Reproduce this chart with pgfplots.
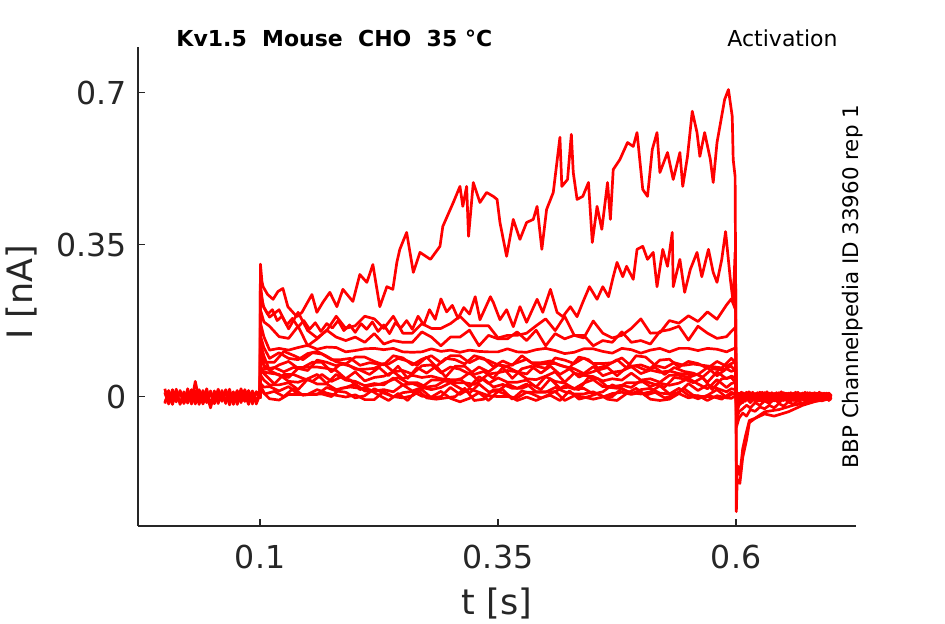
\documentclass[border=0pt]{standalone}
\usepackage{pgfplots}
\pgfplotsset{compat=1.18}
\usepackage{pgfplotstable}
\usepackage{fontspec}
\setmainfont{DejaVu Sans}
\definecolor{axgray}{HTML}{262626}
\pgfplotsset{trace/.style={color=red, line width=1.35pt, line join=round, mark=none}}

% baseline before the step
\pgfplotstableread{
t p q r s u
0.000 0.008 -0.013 0.018 -0.016 0.010
0.004 -0.010 0.007 -0.016 0.014 -0.017
0.008 0.013 -0.018 0.004 -0.010 0.016
0.012 -0.007 0.010 -0.012 0.017 -0.007
0.016 0.010 -0.015 0.014 -0.018 0.011
0.020 -0.016 0.005 -0.007 0.011 -0.014
0.024 0.005 -0.010 0.011 -0.015 0.018
0.028 -0.011 0.016 -0.017 0.008 -0.010
0.032 0.035 -0.007 0.007 -0.017 0.013
0.036 -0.008 0.011 -0.013 0.016 -0.018
0.040 0.011 -0.017 0.008 -0.007 0.014
0.044 -0.014 0.004 -0.010 0.018 -0.011
0.048 0.007 -0.026 0.013 -0.020 0.010
0.052 -0.010 0.008 -0.016 0.013 -0.016
0.056 0.014 -0.013 0.005 -0.016 0.017
0.060 -0.005 0.007 -0.011 0.014 -0.008
0.064 0.010 -0.016 0.014 -0.011 0.016
0.068 -0.013 0.010 -0.005 0.017 -0.019
0.072 0.008 -0.008 0.011 -0.018 0.008
0.076 -0.007 0.014 -0.018 0.010 -0.013
0.080 0.013 -0.011 0.007 -0.014 0.018
0.084 -0.011 0.005 -0.010 0.016 -0.010
0.088 0.005 -0.018 0.013 -0.008 0.014
0.092 -0.008 0.010 -0.007 0.013 -0.017
0.096 0.011 -0.007 0.010 -0.017 0.011
0.100 0.000 0.003 -0.005 0.005 -0.003
}\pre

% lower sweeps during and after the step
\pgfplotstableread{
t c d e f g h i j k l
0.1000 0.002 -0.004 0.003 -0.002 0.004 -0.003 0.001 -0.005 0.003 -0.002
0.1004 0.240 0.200 0.170 0.140 0.120 0.090 0.070 0.050 0.030 0.015
0.104 0.205 0.172 0.138 0.113 0.094 0.073 0.057 0.038 0.022 0.008
0.11 0.183 0.162 0.107 0.088 0.060 0.060 0.054 0.027 0.023 -0.005
0.12 0.200 0.138 0.111 0.101 0.073 0.049 0.051 0.027 0.013 -0.008
0.13 0.156 0.134 0.107 0.088 0.081 0.044 0.035 0.032 0.023 0.005
0.14 0.194 0.162 0.113 0.085 0.065 0.065 0.033 0.016 0.005 0.005
0.15 0.152 0.117 0.118 0.099 0.060 0.068 0.041 0.040 0.005 0.005
0.16 0.135 0.133 0.109 0.104 0.084 0.068 0.051 0.029 0.005 0.016
0.17 0.152 0.153 0.114 0.093 0.079 0.065 0.030 0.029 0.021 0.008
0.18 0.185 0.137 0.113 0.080 0.071 0.060 0.051 0.016 0.013 0.003
0.19 0.157 0.129 0.103 0.075 0.076 0.041 0.038 0.021 0.010 -0.001
0.20 0.163 0.137 0.106 0.091 0.063 0.057 0.035 0.029 -0.003 0.004
0.21 0.185 0.125 0.110 0.091 0.063 0.036 0.025 0.013 0.002 -0.007
0.22 0.179 0.145 0.111 0.081 0.065 0.044 0.030 0.013 0.018 -0.007
0.23 0.157 0.121 0.108 0.073 0.076 0.047 0.027 0.016 0.008 0.012
0.24 0.185 0.129 0.111 0.094 0.057 0.057 0.043 0.011 0.000 -0.001
0.25 0.146 0.125 0.103 0.089 0.060 0.041 0.027 0.027 -0.003 0.009
0.26 0.146 0.125 0.102 0.073 0.052 0.049 0.030 0.013 0.002 0.012
0.27 0.168 0.149 0.103 0.086 0.071 0.044 0.022 0.021 0.016 0.001
0.28 0.157 0.137 0.110 0.094 0.073 0.047 0.038 0.016 -0.003 -0.001
0.29 0.157 0.117 0.104 0.078 0.055 0.041 0.038 0.021 0.000 0.012
0.30 0.168 0.137 0.107 0.094 0.068 0.039 0.033 0.032 0.021 -0.004
0.31 0.185 0.137 0.102 0.094 0.063 0.039 0.041 0.019 0.005 -0.012
0.32 0.163 0.153 0.107 0.078 0.052 0.055 0.022 0.008 0.018 -0.004
0.33 0.163 0.117 0.104 0.089 0.068 0.036 0.046 0.029 0.010 0.009
0.34 0.163 0.141 0.103 0.083 0.057 0.052 0.030 0.011 0.002 -0.009
0.35 0.135 0.133 0.103 0.073 0.073 0.055 0.043 0.013 0.000 0.012
0.36 0.141 0.133 0.110 0.070 0.068 0.060 0.033 0.029 0.000 0.004
0.37 0.141 0.149 0.103 0.078 0.057 0.057 0.033 0.019 -0.003 -0.009
0.38 0.146 0.129 0.102 0.086 0.052 0.041 0.038 0.029 0.010 -0.001
0.39 0.163 0.153 0.108 0.070 0.073 0.039 0.022 0.011 0.010 -0.009
0.40 0.179 0.117 0.111 0.065 0.076 0.047 0.046 0.011 0.010 0.001
0.41 0.152 0.145 0.106 0.089 0.076 0.057 0.035 0.011 0.021 0.012
0.42 0.185 0.133 0.099 0.084 0.069 0.033 0.031 0.025 0.011 -0.009
0.43 0.141 0.141 0.102 0.076 0.064 0.054 0.018 0.017 0.006 0.002
0.44 0.135 0.141 0.110 0.089 0.053 0.049 0.031 0.019 0.006 -0.001
0.45 0.174 0.117 0.110 0.076 0.069 0.046 0.039 0.006 0.011 -0.006
0.46 0.146 0.129 0.104 0.076 0.048 0.036 0.023 0.011 0.000 -0.001
0.47 0.135 0.125 0.100 0.078 0.056 0.041 0.023 0.027 0.000 0.007
0.48 0.141 0.149 0.111 0.089 0.059 0.038 0.026 0.017 0.019 0.010
0.49 0.157 0.125 0.108 0.070 0.069 0.054 0.021 0.009 0.006 0.005
0.50 0.179 0.129 0.100 0.073 0.053 0.038 0.037 0.006 0.016 0.010
0.51 0.146 0.121 0.107 0.065 0.061 0.041 0.023 0.011 0.019 -0.006
0.52 0.147 0.150 0.111 0.084 0.056 0.033 0.031 0.025 0.008 -0.009
0.53 0.175 0.154 0.103 0.086 0.059 0.049 0.026 0.006 0.006 -0.006
0.54 0.169 0.162 0.111 0.068 0.053 0.049 0.031 0.009 0.019 0.007
0.55 0.186 0.130 0.111 0.081 0.051 0.044 0.042 0.030 0.003 -0.003
0.56 0.173 0.162 0.106 0.076 0.051 0.052 0.029 0.014 -0.005 0.002
0.57 0.195 0.146 0.111 0.065 0.067 0.033 0.018 0.027 0.003 -0.009
0.58 0.178 0.134 0.109 0.081 0.048 0.057 0.039 0.019 0.016 0.002
0.59 0.211 0.138 0.103 0.070 0.064 0.041 0.021 0.011 -0.002 -0.003
0.595 0.225 0.150 0.108 0.076 0.058 0.047 0.030 0.018 0.005 -0.004
0.5995 0.200 0.160 0.112 0.080 0.062 0.044 0.033 0.016 0.008 0.002
0.6004 -0.070 -0.055 -0.040 -0.030 -0.025 -0.020 -0.015 -0.012 -0.008 -0.006
0.603 -0.050 -0.035 -0.020 -0.006 0.004 -0.010 0.006 -0.004 0.008 -0.008
0.607 -0.038 -0.028 -0.012 -0.014 -0.006 0.006 -0.008 0.009 -0.006 0.004
0.611 -0.045 -0.020 -0.004 0.003 0.008 -0.006 0.004 -0.008 0.010 -0.004
0.615 -0.030 -0.026 -0.014 -0.008 -0.004 0.008 -0.010 0.004 -0.005 0.009
0.620 -0.034 -0.014 -0.002 0.006 0.004 -0.008 0.007 -0.006 0.006 -0.010
0.625 -0.024 -0.020 -0.010 -0.010 -0.008 0.004 -0.004 0.010 -0.008 0.005
0.630 -0.028 -0.010 0.002 0.004 0.009 -0.006 0.008 -0.004 0.004 -0.006
0.635 -0.020 -0.016 -0.008 -0.008 -0.004 0.007 -0.009 0.006 -0.010 0.008
0.640 -0.026 -0.006 0.004 0.007 0.005 -0.010 0.005 -0.008 0.007 -0.004
0.645 -0.016 -0.014 -0.006 -0.006 -0.008 0.005 -0.006 0.009 -0.005 0.006
0.650 -0.022 -0.004 0.006 0.003 0.008 -0.004 0.009 -0.005 0.006 -0.009
0.655 -0.012 -0.012 -0.004 -0.009 -0.006 0.008 -0.008 0.004 -0.009 0.007
0.660 -0.018 -0.002 0.005 0.006 0.004 -0.009 0.006 -0.007 0.008 -0.005
0.665 -0.010 -0.010 -0.007 -0.005 -0.009 0.006 -0.004 0.010 -0.006 0.004
0.670 -0.016 0.000 0.004 0.008 0.006 -0.006 0.008 -0.006 0.004 -0.008
0.675 -0.008 -0.008 -0.006 -0.007 -0.004 0.009 -0.007 0.005 -0.009 0.006
0.680 -0.012 0.002 0.007 0.004 0.008 -0.005 0.005 -0.008 0.007 -0.004
0.685 -0.006 -0.006 -0.005 -0.008 -0.006 0.006 -0.009 0.007 -0.004 0.008
0.690 -0.010 0.004 0.006 0.006 0.005 -0.008 0.006 -0.005 0.008 -0.007
0.695 -0.004 -0.005 -0.004 -0.006 -0.007 0.005 -0.005 0.008 -0.006 0.005
0.700 -0.006 0.002 0.003 0.004 0.004 -0.004 0.004 -0.003 0.005 -0.003
}\low

% further small sweeps, sampled between the others
\pgfplotstableread{
t m n o w
0.1000 -0.003 0.002 -0.004 0.003
0.1004 0.125 0.100 0.060 0.025
0.105 0.079 0.063 0.051 0.006
0.115 0.079 0.067 0.029 0.012
0.125 0.104 0.057 0.051 0.000
0.135 0.095 0.067 0.051 0.019
0.145 0.085 0.067 0.042 0.003
0.155 0.101 0.079 0.035 0.006
0.165 0.098 0.079 0.051 0.006
0.175 0.085 0.057 0.035 0.000
0.185 0.085 0.076 0.045 0.019
0.195 0.088 0.070 0.038 0.022
0.205 0.072 0.061 0.016 0.019
0.215 0.078 0.051 0.025 0.016
0.225 0.075 0.067 0.028 0.003
0.235 0.075 0.048 0.035 -0.009
0.245 0.088 0.070 0.044 0.007
0.255 0.082 0.042 0.032 -0.009
0.265 0.072 0.067 0.032 0.016
0.275 0.091 0.054 0.022 -0.003
0.285 0.069 0.070 0.025 -0.006
0.295 0.088 0.045 0.038 -0.003
0.305 0.085 0.070 0.032 0.000
0.315 0.075 0.070 0.032 0.019
0.325 0.094 0.051 0.028 -0.009
0.335 0.088 0.058 0.041 -0.006
0.345 0.069 0.042 0.022 0.016
0.355 0.082 0.067 0.028 0.016
0.365 0.072 0.042 0.019 -0.006
0.375 0.094 0.064 0.019 0.013
0.385 0.078 0.070 0.028 0.007
0.395 0.078 0.054 0.016 -0.003
0.405 0.082 0.070 0.041 0.003
0.415 0.072 0.051 0.019 -0.009
0.425 0.066 0.064 0.022 0.013
0.435 0.091 0.045 0.016 -0.006
0.445 0.085 0.054 0.044 0.000
0.455 0.066 0.061 0.041 0.007
0.465 0.072 0.067 0.022 -0.006
0.475 0.085 0.048 0.019 -0.009
0.485 0.066 0.067 0.032 0.007
0.495 0.094 0.070 0.032 0.019
0.505 0.091 0.061 0.035 0.003
0.515 0.072 0.067 0.028 0.010
0.525 0.066 0.051 0.022 -0.003
0.535 0.078 0.067 0.044 0.003
0.545 0.072 0.058 0.041 0.019
0.555 0.075 0.054 0.032 0.003
0.565 0.072 0.045 0.044 0.000
0.575 0.069 0.064 0.016 0.000
0.585 0.066 0.061 0.041 -0.006
0.595 0.088 0.070 0.044 0.010
0.5995 0.078 0.058 0.032 0.006
0.6004 -0.025 -0.018 -0.012 -0.008
0.6055 -0.012 0.006 -0.009 0.010
0.6095 0.005 -0.011 0.008 -0.006
0.6135 -0.009 0.004 -0.004 0.011
0.6175 0.008 -0.007 0.010 -0.009
0.6225 -0.006 0.009 -0.011 0.005
0.6275 0.010 -0.004 0.006 -0.010
0.6325 -0.008 0.011 -0.007 0.007
0.6375 0.006 -0.009 0.009 -0.005
0.6425 -0.010 0.005 -0.005 0.009
0.6475 0.007 -0.010 0.011 -0.008
0.6525 -0.005 0.008 -0.008 0.004
0.6575 0.009 -0.006 0.005 -0.011
0.6625 -0.007 0.010 -0.010 0.008
0.6675 0.005 -0.008 0.007 -0.006
0.6725 -0.010 0.006 -0.004 0.010
0.6775 0.008 -0.005 0.009 -0.007
0.6825 -0.006 0.009 -0.009 0.005
0.6875 0.010 -0.007 0.006 -0.009
0.6925 -0.008 0.004 -0.006 0.008
0.6975 0.006 -0.009 0.008 -0.005
0.7000 0.001 -0.002 0.002 -0.001
}\mid

\begin{document}
\begin{tikzpicture}
\useasboundingbox (-69pt,-49pt) rectangle (403.5pt,263pt);
\begin{axis}[
  at={(0,0)}, anchor=south west,
  scale only axis, width=359pt, height=239.5pt,
  xmin=-0.0282, xmax=0.726, ymin=-0.298, ymax=0.805,
  axis lines=left, axis line style={-, draw=axgray, line width=0.6pt},
  xtick={0.1,0.35,0.6}, xticklabels={0.1,0.35,0.6},
  ytick={0,0.35,0.7}, yticklabels={0,0.35,0.7},
  tick style={draw=axgray, line width=0.6pt}, major tick length=3.5pt,
  tick align=inside,
  ticklabel style={font=\fontsize{15.8}{18}\selectfont, text=axgray},
  xticklabel style={yshift=-6pt},
  yticklabel style={xshift=-2pt},
  clip=false,
]
\addplot[trace] table[x=t,y=p] {\pre};
\addplot[trace] table[x=t,y=q] {\pre};
\addplot[trace] table[x=t,y=r] {\pre};
\addplot[trace] table[x=t,y=s] {\pre};
\addplot[trace] table[x=t,y=u] {\pre};
\addplot[trace] table[x=t,y=l] {\low};
\addplot[trace] table[x=t,y=k] {\low};
\addplot[trace] table[x=t,y=j] {\low};
\addplot[trace] table[x=t,y=i] {\low};
\addplot[trace] table[x=t,y=h] {\low};
\addplot[trace] table[x=t,y=g] {\low};
\addplot[trace] table[x=t,y=f] {\low};
\addplot[trace] table[x=t,y=e] {\low};
\addplot[trace] table[x=t,y=d] {\low};
\addplot[trace] table[x=t,y=c] {\low};
\addplot[trace] table[x=t,y=m] {\mid};
\addplot[trace] table[x=t,y=n] {\mid};
\addplot[trace] table[x=t,y=o] {\mid};
\addplot[trace] table[x=t,y=w] {\mid};
% second sweep
\addplot[trace] coordinates {
(0.1000,0.000) (0.1003,0.260) (0.103,0.210) (0.108,0.190) (0.113,0.200) (0.118,0.175)
(0.123,0.185) (0.128,0.165) (0.134,0.180) (0.140,0.160) (0.146,0.175) (0.152,0.155)
(0.158,0.170) (0.164,0.150) (0.170,0.168) (0.176,0.158) (0.182,0.175) (0.188,0.152)
(0.194,0.165) (0.200,0.148) (0.206,0.168) (0.212,0.155) (0.218,0.172) (0.224,0.150)
(0.230,0.165) (0.236,0.145) (0.242,0.170) (0.248,0.158) (0.254,0.175) (0.260,0.155)
(0.266,0.185) (0.272,0.165) (0.278,0.200) (0.284,0.178) (0.290,0.225) (0.296,0.195)
(0.302,0.210) (0.308,0.180) (0.314,0.205) (0.320,0.190) (0.326,0.230) (0.331,0.177)
(0.342,0.230) (0.345,0.217) (0.352,0.177) (0.359,0.200) (0.366,0.161) (0.373,0.207)
(0.380,0.171) (0.391,0.224) (0.397,0.194) (0.405,0.247) (0.412,0.194) (0.418,0.184)
(0.426,0.207) (0.433,0.184) (0.439,0.217) (0.446,0.253) (0.454,0.224) (0.460,0.253)
(0.466,0.230) (0.471,0.276) (0.475,0.309) (0.481,0.276) (0.485,0.300) (0.492,0.270)
(0.496,0.339) (0.502,0.346) (0.507,0.316) (0.513,0.332) (0.517,0.253) (0.523,0.339)
(0.528,0.300) (0.533,0.378) (0.534,0.253) (0.541,0.316) (0.546,0.240) (0.552,0.293)
(0.559,0.332) (0.564,0.276) (0.571,0.339) (0.576,0.286) (0.580,0.263) (0.585,0.316)
(0.589,0.380) (0.594,0.270) (0.597,0.217) (0.599,0.332) (0.5995,0.300) (0.6004,-0.200)
(0.602,-0.160) (0.604,-0.180) (0.607,-0.120) (0.610,-0.090) (0.614,-0.055) (0.620,-0.050)
(0.630,-0.035) (0.645,-0.030) (0.660,-0.020) (0.680,-0.012) (0.700,-0.005)
};
% largest sweep
\addplot[trace] coordinates {
(0.1000,0.002) (0.1004,0.305) (0.1020,0.265) (0.1032,0.253) (0.108,0.235) (0.1137,0.224)
(0.1188,0.242) (0.1240,0.249) (0.1292,0.207) (0.1387,0.184) (0.1440,0.194) (0.1545,0.235)
(0.1597,0.194) (0.1660,0.217) (0.1733,0.240) (0.1807,0.207) (0.1870,0.247) (0.1975,0.219)
(0.2048,0.281) (0.2122,0.263) (0.2185,0.304) (0.2258,0.207) (0.2332,0.253) (0.2395,0.247)
(0.2437,0.309) (0.2468,0.339) (0.254,0.378) (0.261,0.286) (0.268,0.332) (0.279,0.316)
(0.289,0.346) (0.292,0.392) (0.303,0.447) (0.310,0.484) (0.313,0.438) (0.317,0.484)
(0.319,0.369) (0.324,0.493) (0.331,0.447) (0.338,0.470) (0.345,0.461) (0.349,0.454)
(0.352,0.401) (0.359,0.323) (0.366,0.408) (0.373,0.362) (0.380,0.401) (0.387,0.408)
(0.391,0.438) (0.396,0.339) (0.401,0.431) (0.408,0.470) (0.415,0.597) (0.417,0.484)
(0.423,0.500) (0.427,0.604) (0.429,0.516) (0.433,0.454) (0.439,0.461) (0.445,0.493)
(0.449,0.355) (0.454,0.438) (0.459,0.385) (0.465,0.493) (0.468,0.408) (0.471,0.523)
(0.478,0.546) (0.486,0.585) (0.492,0.576) (0.496,0.608) (0.502,0.477) (0.507,0.461)
(0.512,0.569) (0.517,0.608) (0.520,0.516) (0.528,0.562) (0.534,0.500) (0.541,0.562)
(0.544,0.484) (0.549,0.553) (0.554,0.657) (0.559,0.608) (0.562,0.553) (0.567,0.608)
(0.573,0.546) (0.576,0.493) (0.580,0.585) (0.583,0.622) (0.588,0.684) (0.592,0.707)
(0.596,0.645) (0.597,0.546) (0.599,0.507) (0.5995,0.300) (0.6003,-0.265) (0.6012,-0.190)
(0.604,-0.200) (0.607,-0.140) (0.611,-0.100) (0.614,-0.060) (0.620,-0.050) (0.630,-0.040)
(0.640,-0.045) (0.655,-0.035) (0.670,-0.020) (0.685,-0.010) (0.700,-0.005)
};
\node[anchor=base west, inner sep=0pt, font=\bfseries\fontsize{11}{13}\selectfont] at (axis cs:0.0118,0.806) {Kv1.5\ \ Mouse\ \ CHO\ \ 35 °C};
\node[anchor=base east, inner sep=0pt, font=\fontsize{11}{13}\selectfont] at (axis cs:0.7071,0.806) {Activation};
\node[rotate=90, anchor=base, inner sep=0pt, font=\fontsize{10.7}{13}\selectfont] at (axis cs:0.7282,0.2535) {BBP Channelpedia ID 33960 rep 1};
\node[rotate=90, anchor=center, font=\fontsize{17.5}{20}\selectfont, text=axgray] at (rel axis cs:-0.1616,0.4885) {I [nA]};
\node[anchor=center, font=\fontsize{17.5}{20}\selectfont, text=axgray] at (rel axis cs:0.5,-0.161) {t [s]};
\end{axis}
\end{tikzpicture}
\end{document}
